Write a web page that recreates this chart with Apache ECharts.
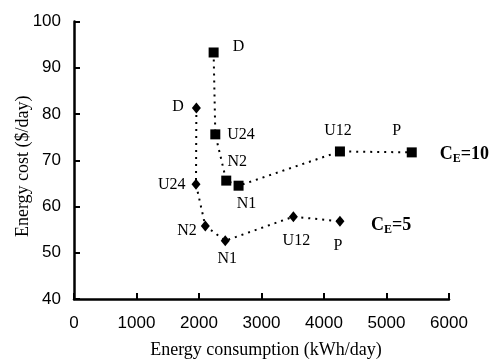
<!DOCTYPE html>
<html>
<head>
<meta charset="utf-8">
<script src="https://cdn.jsdelivr.net/npm/echarts@6/dist/echarts.min.js"></script>
<style>
  html, body { margin: 0; padding: 0; background: #fff; }
  #chart { width: 493px; height: 360px; }
</style>
</head>
<body>
<div id="chart"></div>
<script>
// point names (operating strategies)
var pointNames = ["D", "U24", "N2", "N1", "U12", "P"];
// C_E = 10 series (squares)
var ce10X = [2234, 2261, 2436, 2633, 4255, 5404];
var ce10Y = [93.3, 75.6, 65.6, 64.5, 71.9, 71.7];
// C_E = 5 series (diamonds)
var ce5X = [1958, 1952, 2101, 2420, 3510, 4255];
var ce5Y = [81.3, 64.8, 55.8, 52.6, 57.8, 56.8];

var serif = "Liberation Serif";
var sans = "Liberation Sans";

// label placement per point (style only)
var ce10Pos = [
  { position: "right", offset: [9, -6] },
  { position: "right", offset: [2, 0] },
  { position: "top", offset: [11, -1] },
  { position: "bottom", offset: [8, 0] },
  { position: "top", offset: [-2, -3] },
  { position: "top", offset: [-15, -4] }
];
var ce5Pos = [
  { position: "left", offset: [-3, -1] },
  { position: "left", offset: [-1, 0] },
  { position: "left", offset: [1, 5] },
  { position: "bottom", offset: [2, 0] },
  { position: "bottom", offset: [3, 6] },
  { position: "bottom", offset: [-2, 6] }
];

function buildData(xs, ys, pos) {
  return xs.map(function (x, i) {
    return {
      name: pointNames[i],
      value: [x, ys[i]],
      label: { show: true, position: pos[i].position, offset: pos[i].offset }
    };
  });
}

var chart = echarts.init(document.getElementById("chart"));
var labelCommon = {
  formatter: "{b}",
  color: "#000",
  fontFamily: serif,
  fontSize: 16
};
var endRich = {
  a: { fontFamily: serif, fontWeight: "bold", fontSize: 18, color: "#000" },
  sub: { fontFamily: serif, fontWeight: "bold", fontSize: 12, color: "#000", verticalAlign: "bottom", padding: [9, 0, 0, 0] }
};

chart.setOption({
  animation: false,
  grid: { left: 74, right: 44, top: 21.5, bottom: 61, containLabel: false, outerBoundsMode: "none" },
  xAxis: {
    type: "value",
    min: 0, max: 6000, interval: 1000,
    name: "Energy consumption (kWh/day)",
    nameLocation: "middle",
    nameGap: 42,
    nameMoveOverlap: false,
    nameTextStyle: { fontFamily: serif, fontSize: 18, color: "#000", padding: [0, 0, 0, 9] },
    axisLine: { lineStyle: { color: "#000", width: 2.5 } },
    axisTick: { inside: true, length: 6, lineStyle: { color: "#000", width: 2 } },
    axisLabel: { fontFamily: sans, fontSize: 17, color: "#000", margin: 16, formatter: function (v) { return String(v); } },
    splitLine: { show: false }
  },
  yAxis: {
    type: "value",
    min: 40, max: 100, interval: 10,
    name: "Energy cost ($/day)",
    nameLocation: "middle",
    nameGap: 42,
    nameMoveOverlap: false,
    nameTextStyle: { fontFamily: serif, fontSize: 18, color: "#000", padding: [0, 12, 0, 0] },
    axisLine: { show: true, lineStyle: { color: "#000", width: 2.5 } },
    axisTick: { show: true, inside: true, length: 6, lineStyle: { color: "#000", width: 2 } },
    axisLabel: { fontFamily: sans, fontSize: 17, color: "#000", margin: 13 },
    splitLine: { show: false }
  },
  series: [
    {
      name: "CE=10",
      type: "line",
      symbol: "rect",
      symbolSize: 10,
      itemStyle: { color: "#000" },
      lineStyle: { color: "#000", width: 2, type: [2, 5] },
      label: labelCommon,
      endLabel: {
        show: true,
        distance: 28,
        offset: [0, 2],
        formatter: "{a|C}{sub|E}{a|=10}",
        rich: endRich
      },
      data: buildData(ce10X, ce10Y, ce10Pos)
    },
    {
      name: "CE=5",
      type: "line",
      symbol: "diamond",
      symbolSize: [9, 11],
      itemStyle: { color: "#000" },
      lineStyle: { color: "#000", width: 2, type: [2, 5] },
      label: labelCommon,
      endLabel: {
        show: true,
        distance: 31,
        offset: [0, 4],
        formatter: "{a|C}{sub|E}{a|=5}",
        rich: endRich
      },
      data: buildData(ce5X, ce5Y, ce5Pos)
    }
  ]
});
</script>
</body>
</html>
